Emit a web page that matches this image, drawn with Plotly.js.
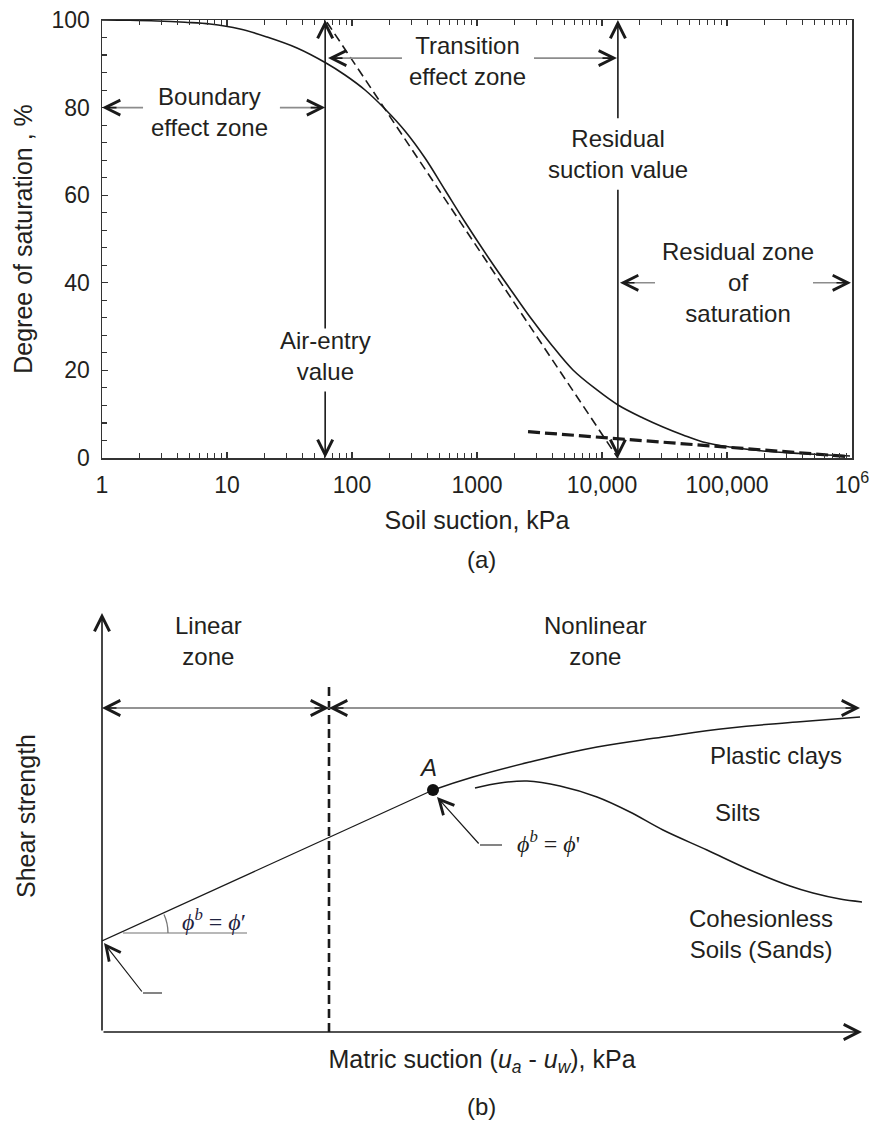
<!DOCTYPE html>
<html>
<head>
<meta charset="utf-8">
<script src="https://cdn.plot.ly/plotly-3.0.1.min.js"></script>
<style>
  html, body { margin: 0; padding: 0; background: #fff; }
  #chart { width: 875px; height: 1122px; }
</style>
</head>
<body>
<div id="chart"></div>
<script>
// ---------- (a) soil-water characteristic curve ----------
const suction = [1, 1.675, 2.754, 4.613, 7.311, 12.71, 20.89, 36.31, 61.94, 87.9, 127.1, 183.7, 265.5, 383.7, 554.6, 801.7,
  1271, 1941, 2655, 3837, 5861, 9120, 13430, 21280, 30760, 44460, 64270, 105700, 194100, 383700, 963800];
const saturation = [100, 99.93, 99.77, 99.47, 99.09, 97.95, 96.12, 93.61, 90.18, 87.44, 84.02, 79.68, 74.66, 68.49, 61.19, 53.88,
  45.21, 37.67, 32.19, 26.26, 20.09, 15.53, 12.10, 9.13, 7.08, 5.25, 3.65, 2.51, 1.60, 1.03, 0.46];

// tangent through the desaturation zone and the residual asymptote
const desatSuction = [63, 13400];
const desatSat = [99.5, 0];
const residSuction = [2560, 960000];
const residSat = [6.0, 0.3];

const airEntry = 61;           // kPa
const residualSuction = 13400; // kPa

const xTickVals = [1, 10, 100, 1000, 10000, 100000, 1000000];
const xTickText = ['1', '10', '100', '1000', '10,000', '100,000', '10<sup>6</sup>'];

// ---------- (b) shear strength vs matric suction (schematic units) ----------
const linearU = [0, 331];
const linearV = [91, 242];
const pointA = [331, 242];
const plasticU = [331, 371, 428, 495, 561, 628, 695, 758];
const plasticV = [242, 255, 270, 285, 295, 304, 310, 315];
const siltU = [373, 398, 425, 458, 495, 528, 561, 605, 648, 688, 711, 738, 761];
const siltV = [244, 249, 251, 246, 235, 220, 202, 182, 162, 146, 139, 133, 130];
const zoneBoundaryU = 227;

const W = 875, H = 1122;
const SANS = 'Liberation Sans, Arial, Helvetica, sans-serif';
const SERIF = 'Liberation Serif, Times New Roman, serif';
const INK = '#231f20';
const GREY = '#8c8c8c';
const AXIS = '#333';
const HEAD = 1.85;

const lg = Math.log10;

// minor tick positions 2..9 within each decade
const minorX = [];
for (let d = 0; d < 6; d++) for (let m = 2; m <= 9; m++) minorX.push(m * Math.pow(10, d));

const traces = [
  // (a)
  { x: suction, y: saturation, xaxis: 'x', yaxis: 'y', mode: 'lines',
    line: { color: '#1a1a1a', width: 1.6, shape: 'spline', smoothing: 1 }, hoverinfo: 'skip' },
  { x: desatSuction, y: desatSat, xaxis: 'x', yaxis: 'y', mode: 'lines',
    line: { color: '#1a1a1a', width: 1.6, dash: '9px,5px' }, hoverinfo: 'skip' },
  { x: residSuction, y: residSat, xaxis: 'x', yaxis: 'y', mode: 'lines',
    line: { color: '#1a1a1a', width: 3.2, dash: '12px,5px' }, hoverinfo: 'skip' },
  // zone arrow shafts in (a)
  { x: [2.13, 1.1, null, 26.5, 56, null, 251, 68, null, 2858, 12400, null, 26550, 14600, null, 487500, 940000],
    y: [80, 80, null, 80, 80, null, 91.3, 91.3, null, 91.3, 91.3, null, 40, 40, null, 40, 40],
    xaxis: 'x', yaxis: 'y', mode: 'lines', line: { color: GREY, width: 1.6 }, hoverinfo: 'skip', connectgaps: false },
  // carriers for the minor-tick axes
  { x: [], y: [], xaxis: 'x3', yaxis: 'y', mode: 'lines', hoverinfo: 'skip' },
  { x: [], y: [], xaxis: 'x', yaxis: 'y3', mode: 'lines', hoverinfo: 'skip' },

  // (b)
  { x: linearU, y: linearV, xaxis: 'x2', yaxis: 'y2', mode: 'lines',
    line: { color: '#1a1a1a', width: 1.3 }, hoverinfo: 'skip' },
  { x: plasticU, y: plasticV, xaxis: 'x2', yaxis: 'y2', mode: 'lines',
    line: { color: '#1a1a1a', width: 1.5, shape: 'spline', smoothing: 1.3 }, hoverinfo: 'skip' },
  { x: siltU, y: siltV, xaxis: 'x2', yaxis: 'y2', mode: 'lines',
    line: { color: '#1a1a1a', width: 1.5, shape: 'spline', smoothing: 1 }, hoverinfo: 'skip' },
  { x: [zoneBoundaryU, zoneBoundaryU], y: [0, 350], xaxis: 'x2', yaxis: 'y2', mode: 'lines',
    line: { color: '#1a1a1a', width: 2.6, dash: '9px,5px' }, hoverinfo: 'skip' },
  { x: [4, 754], y: [324, 324], xaxis: 'x2', yaxis: 'y2', mode: 'lines',
    line: { color: '#6f6f6f', width: 1.3 }, hoverinfo: 'skip' },
  // reference line for the friction angle
  { x: [21, 145], y: [99, 99], xaxis: 'x2', yaxis: 'y2', mode: 'lines',
    line: { color: '#a0a0a0', width: 1.6 }, hoverinfo: 'skip' },
  // leader ticks of the two pointers
  { x: [60, 41, null, 400, 378], y: [39, 39, null, 187, 187], xaxis: 'x2', yaxis: 'y2', mode: 'lines',
    line: { color: '#333', width: 1.2 }, hoverinfo: 'skip' },
  { x: [pointA[0]], y: [pointA[1]], xaxis: 'x2', yaxis: 'y2', mode: 'markers',
    marker: { color: '#111', size: 12 }, hoverinfo: 'skip', cliponaxis: false }
];

function arrowA(tip, tail, color, width) {
  return { xref: 'x', yref: 'y', axref: 'x', ayref: 'y',
    x: lg(tip[0]), y: tip[1], ax: lg(tail[0]), ay: tail[1], text: '', showarrow: true,
    arrowhead: 5, arrowsize: HEAD, arrowwidth: width || 1.6, arrowcolor: color || '#1a1a1a', standoff: 0 };
}
function headA(tip, dx, dy) {
  return { xref: 'x', yref: 'y', x: lg(tip[0]), y: tip[1], ax: dx, ay: dy, text: '', showarrow: true,
    arrowhead: 5, arrowsize: HEAD, arrowwidth: 1.6, arrowcolor: '#1a1a1a', standoff: 0 };
}
function arrowB(tip, tail, width, size) {
  return { xref: 'x2', yref: 'y2', axref: 'x2', ayref: 'y2',
    x: tip[0], y: tip[1], ax: tail[0], ay: tail[1], text: '', showarrow: true,
    arrowhead: 5, arrowsize: size || HEAD, arrowwidth: width || 1.6, arrowcolor: '#1a1a1a', standoff: 0 };
}
function headB(tip, dx, dy) {
  return { xref: 'x2', yref: 'y2', x: tip[0], y: tip[1], ax: dx, ay: dy, text: '', showarrow: true,
    arrowhead: 5, arrowsize: HEAD, arrowwidth: 1.6, arrowcolor: '#1a1a1a', standoff: 0 };
}
function textA(x, y, txt, size) {
  return { xref: 'x', yref: 'y', x: lg(x), y: y, text: txt, showarrow: false,
    xanchor: 'center', yanchor: 'middle', align: 'center',
    font: { family: SANS, size: size || 24, color: INK } };
}
function textB(x, y, txt, opts) {
  return Object.assign({ xref: 'x2', yref: 'y2', x: x, y: y, text: txt, showarrow: false,
    xanchor: 'center', yanchor: 'middle', align: 'center',
    font: { family: SANS, size: 24, color: INK } }, opts || {});
}

const annotations = [
  // (a) vertical markers
  arrowA([airEntry, 100], [airEntry, 29.2]),
  arrowA([airEntry, 0], [airEntry, 15.5]),
  arrowA([residualSuction, 100], [residualSuction, 77.2]),
  arrowA([residualSuction, 0], [residualSuction, 61.6]),
  // (a) zone arrow heads
  headA([1, 80], 16, 0),
  headA([airEntry, 80], -16, 0),
  headA([64.3, 91.3], 16, 0),
  headA([13180, 91.3], -16, 0),
  headA([13930, 40], 16, 0),
  headA([982000, 40], -16, 0),
  // (a) labels
  textA(7.18, 79.0, 'Boundary<br>effect zone'),
  textA(832, 90.6, 'Transition<br>effect zone'),
  textA(residualSuction, 69.4, 'Residual<br>suction value'),
  textA(airEntry, 23.3, 'Air-entry<br>value'),
  textA(122500, 40.0, 'Residual zone<br>of<br>saturation'),
  { xref: 'paper', yref: 'paper', x: 482 / W, y: 1 - 560 / H, text: '(a)', showarrow: false,
    xanchor: 'center', yanchor: 'middle', font: { family: SANS, size: 24, color: INK } },

  // (b) axes
  arrowB([0, 419], [0, 0], 1.6),
  arrowB([760, 0], [0, 0], 1.6),
  // (b) zone arrow heads
  headB([0, 324], 16, 0),
  headB([zoneBoundaryU, 324], -16, 0),
  headB([zoneBoundaryU, 324], 16, 0),
  headB([758, 324], -16, 0),
  // (b) pointers
  arrowB([2, 89], [41, 39], 1.2, 2.4),
  arrowB([335, 235], [378, 187], 1.2, 2.4),
  // (b) labels
  textB(106, 391, 'Linear<br>zone'),
  textB(493, 391, 'Nonlinear<br>zone'),
  textB(326, 265, '<i>A</i>'),
  textB(674, 277, 'Plastic clays'),
  textB(635, 220, 'Silts'),
  textB(659, 98, 'Cohesionless<br>Soils (Sands)'),
  textB(112, 112, '<i>ϕ</i><sup><i>b</i></sup> = <i>ϕ</i>′',
    { font: { family: SERIF, size: 24, color: '#1f2340' } }),
  textB(446, 190, '<i>ϕ</i><sup><i>b</i></sup> = <i>ϕ</i>\'',
    { font: { family: SERIF, size: 24, color: INK } }),
  { xref: 'paper', yref: 'paper', x: 482 / W, y: 1 - 1106 / H, text: '(b)', showarrow: false,
    xanchor: 'center', yanchor: 'middle', font: { family: SANS, size: 24, color: INK } }
];

const shapes = [
  // friction angle arc
  { type: 'path', xref: 'x2', yref: 'y2', path: 'M 66,99 Q 66,108.8 62,117.6',
    line: { color: '#777', width: 1.3 } }
];

const domA = { x: [102 / W, 852 / W], y: [1 - 458 / H, 1 - 20 / H] };

const layout = {
  width: W, height: H,
  margin: { l: 0, r: 0, t: 0, b: 0 },
  paper_bgcolor: '#fff', plot_bgcolor: 'rgba(0,0,0,0)',
  showlegend: false,
  xaxis: {
    type: 'log', range: [0, 6], domain: domA.x, anchor: 'y',
    showline: true, linecolor: AXIS, linewidth: 1.5, mirror: 'ticks',
    ticks: 'inside', ticklen: 6, tickcolor: AXIS, tickwidth: 1.2,
    tickmode: 'array', tickvals: xTickVals, ticktext: xTickText,
    tickfont: { family: SANS, size: 23, color: INK }, ticklabelstandoff: 6,
    showgrid: false, zeroline: false,
    title: { text: 'Soil suction, kPa', font: { family: SANS, size: 25, color: INK }, standoff: 14 }
  },
  // minor decade ticks, top and bottom
  xaxis3: {
    type: 'log', range: [0, 6], domain: domA.x, anchor: 'y', overlaying: 'x',
    showline: true, linecolor: AXIS, linewidth: 1.5, mirror: 'ticks',
    ticks: 'inside', ticklen: 5, tickcolor: AXIS, tickwidth: 1.1,
    tickmode: 'array', tickvals: minorX, showticklabels: false,
    showgrid: false, zeroline: false
  },
  yaxis: {
    range: [0, 100], domain: domA.y, anchor: 'x',
    showline: true, linecolor: AXIS, linewidth: 1.5, mirror: true,
    ticks: 'inside', ticklen: 6, tickcolor: AXIS, tickwidth: 1.2, dtick: 20,
    tickfont: { family: SANS, size: 23, color: INK }, ticklabelstandoff: 6,
    showgrid: false, zeroline: false,
    title: { text: 'Degree of saturation , %', font: { family: SANS, size: 25, color: INK }, standoff: 12 }
  },
  // minor saturation ticks every 4 %
  yaxis3: {
    range: [0, 100], domain: domA.y, anchor: 'x', overlaying: 'y', side: 'left',
    showline: false, ticks: 'inside', ticklen: 5, tickcolor: AXIS, tickwidth: 1.1, dtick: 4,
    showticklabels: false, showgrid: false, zeroline: false
  },
  xaxis2: {
    range: [0, 760], domain: [102 / W, 862 / W], anchor: 'y2',
    showline: false, showticklabels: false, ticks: '', showgrid: false, zeroline: false,
    title: { text: 'Matric suction (<i>u</i><sub><i>a</i></sub> - <i>u</i><sub><i>w</i></sub>), kPa',
      font: { family: SANS, size: 25, color: INK }, standoff: 18 }
  },
  yaxis2: {
    range: [0, 432], domain: [1 - 1032 / H, 1 - 600 / H], anchor: 'x2',
    showline: false, showticklabels: false, ticks: '', showgrid: false, zeroline: false,
    title: { text: 'Shear strength', font: { family: SANS, size: 25, color: INK }, standoff: 58 }
  },
  annotations: annotations,
  shapes: shapes
};

Plotly.newPlot('chart', traces, layout, { displayModeBar: false, staticPlot: true });
</script>
</body>
</html>
